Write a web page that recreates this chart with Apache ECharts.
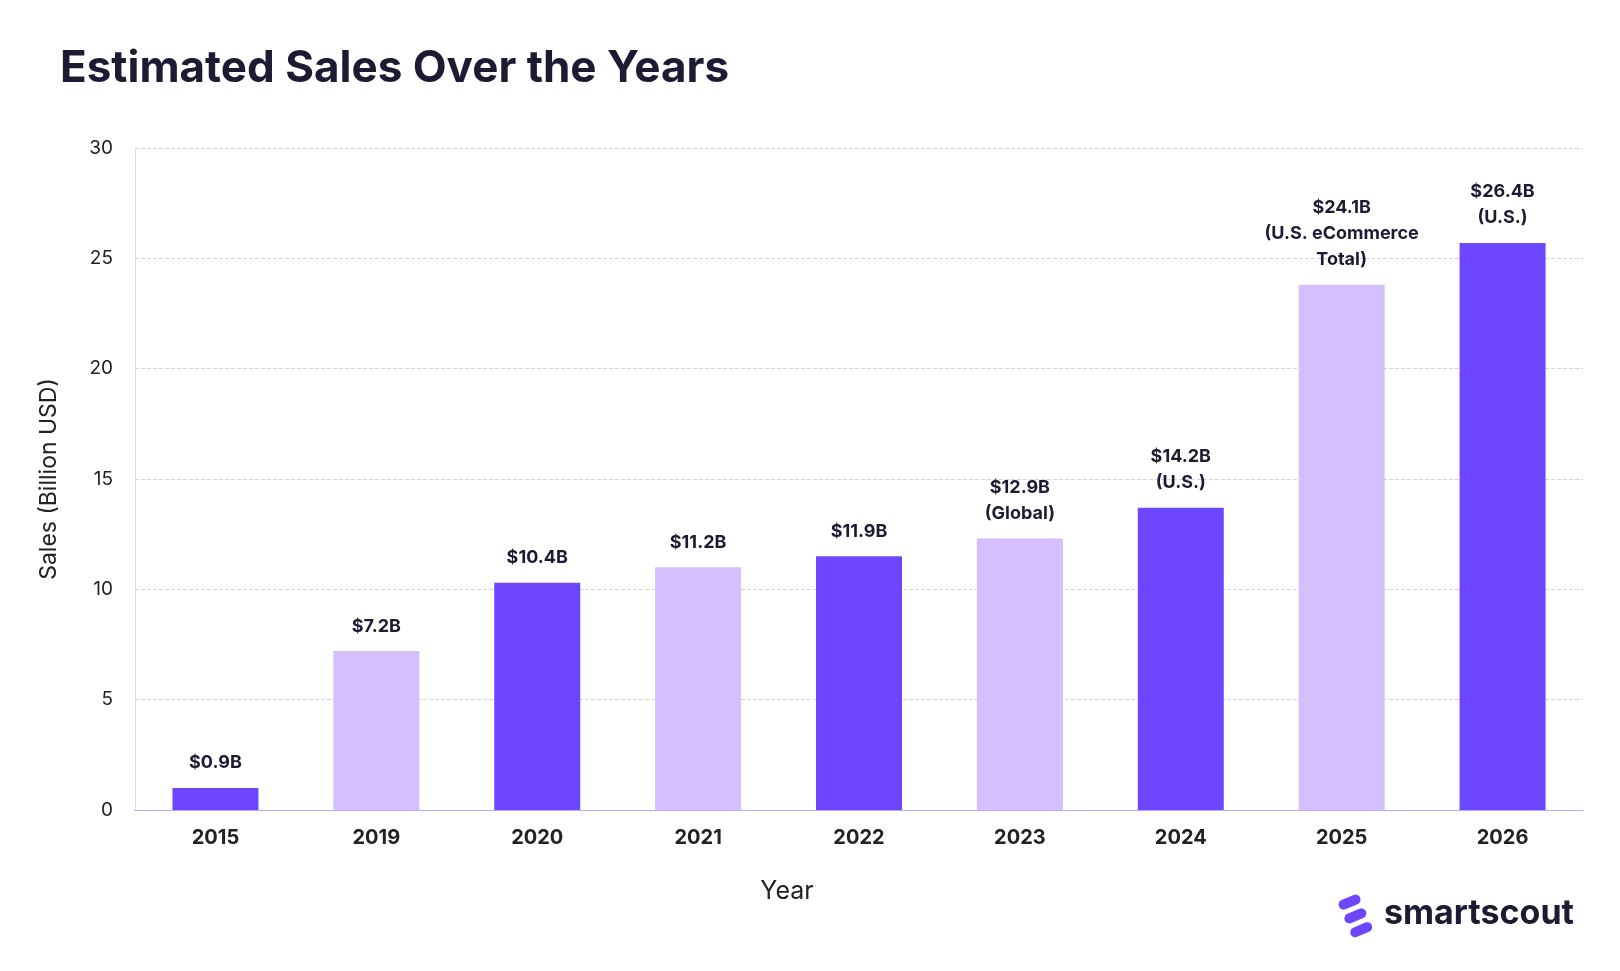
<!DOCTYPE html>
<html><head><meta charset="utf-8">
<script src="https://cdn.jsdelivr.net/npm/echarts@6/dist/echarts.min.js"></script>
<style>html,body{margin:0;background:#fff}#c{width:1620px;height:971px}</style>
</head><body><div id="c"></div>
<script>
const years = ['2015','2019','2020','2021','2022','2023','2024','2025','2026'];
const sales = [1.0, 7.2, 10.3, 11.0, 11.5, 12.3, 13.7, 23.8, 25.7];
const labels = ['$0.9B','$7.2B','$10.4B','$11.2B','$11.9B','$12.9B\n(Global)','$14.2B\n(U.S.)','$24.1B\n(U.S. eCommerce\nTotal)','$26.4B\n(U.S.)'];
const colors = ['#6C47FF','#D4BFFF'];
const chart = echarts.init(document.getElementById('c'));
chart.setOption({
  textStyle:{fontFamily:'Inter'},
  title:{text:'Estimated Sales Over the Years',left:55,top:42,textStyle:{fontSize:44,fontWeight:'bold',color:'#1b1b33',fontFamily:'Inter'}},
  grid:{left:135,right:37,top:148,bottom:161},
  xAxis:{type:'category',data:years,
    axisLine:{lineStyle:{color:'#b9a8ff'}},axisTick:{show:false},
    axisLabel:{fontSize:20,fontWeight:'bold',color:'#222',margin:18}},
  yAxis:{type:'value',min:0,max:30,interval:5,name:'Sales (Billion USD)',nameLocation:'middle',nameGap:74,
    nameTextStyle:{fontSize:23,color:'#222'},
    axisLabel:{fontSize:19,color:'#222',margin:22},
    axisLine:{show:true,lineStyle:{color:'#ddd'}},
    splitLine:{lineStyle:{type:'dashed',color:'#d5d5e0'}}},
  series:[{type:'bar',barWidth:86,
    data:sales.map((v,i)=>({value:v,itemStyle:{color:colors[i%2]},
      label:{formatter:labels[i]}})),
    label:{show:true,position:'top',distance:12,fontSize:18,fontWeight:'bold',color:'#1b1b33',lineHeight:26,align:'center'}}],
  graphic:[
    {type:'text',x:787,y:891,style:{text:'Year',fontSize:25,fill:'#222',align:'center',verticalAlign:'middle',fontFamily:'Inter'}},
    {type:'text',left:1384,top:897,style:{text:'smartscout',fontSize:34,fontWeight:'bold',fill:'#1b1b33',fontFamily:'Inter'}},
    {type:'group',left:1337,top:893,children:[
      {type:'rect',shape:{x:0,y:4,width:23,height:10,r:5},rotation:0.4,style:{fill:'#6C47FF'}},
      {type:'rect',shape:{x:0,y:19,width:23,height:10,r:5},rotation:0.4,style:{fill:'#6C47FF'}},
      {type:'rect',shape:{x:0,y:34,width:23,height:10,r:5},rotation:0.4,style:{fill:'#6C47FF'}}
    ]}
  ]
});
</script></body></html>
